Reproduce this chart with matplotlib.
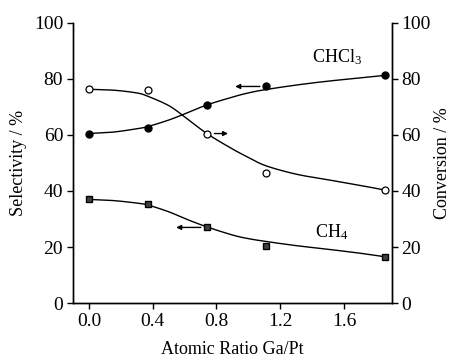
import matplotlib
matplotlib.use("Agg")
import matplotlib.pyplot as plt
import numpy as np

plt.rcParams['font.family'] = ['Liberation Serif', 'DejaVu Serif']
plt.rcParams['mathtext.default'] = 'regular'

# measured points
ratio = [0.0, 0.37, 0.74, 1.11, 1.86]
sel_chcl3 = [60.5, 62.5, 70.7, 77.3, 81.5]
sel_ch4 = [37.0, 35.5, 27.0, 20.5, 16.5]
conversion = [76.5, 76.0, 60.5, 46.5, 40.5]

# fitted curves
fit_x = [0.0, 0.15, 0.3, 0.37, 0.5, 0.6, 0.74, 0.9, 1.0, 1.11, 1.3, 1.5, 1.7, 1.86]
fit_chcl3 = [60.5, 61.0, 62.2, 63.0, 65.3, 67.5, 70.7, 73.5, 75.0, 76.2, 77.8, 79.2, 80.3, 81.3]
fit_ch4 = [37.0, 36.6, 35.7, 35.0, 32.6, 30.2, 27.2, 24.3, 23.0, 22.0, 20.5, 19.2, 17.8, 16.5]
fit_conv = [76.3, 76.0, 75.0, 73.8, 70.5, 66.5, 60.5, 55.0, 52.0, 49.0, 46.0, 44.0, 42.0, 40.3]


def smooth(x, y, n=12):
    # catmull-rom through the read points, only to draw a smooth line
    x = np.asarray(x, float)
    y = np.asarray(y, float)
    px = np.concatenate([[2 * x[0] - x[1]], x, [2 * x[-1] - x[-2]]])
    py = np.concatenate([[2 * y[0] - y[1]], y, [2 * y[-1] - y[-2]]])
    t = np.linspace(0, 1, n, endpoint=False)
    ox, oy = [], []
    for i in range(1, len(px) - 2):
        for p, o in ((px, ox), (py, oy)):
            p0, p1, p2, p3 = p[i - 1], p[i], p[i + 1], p[i + 2]
            o.extend(0.5 * (2 * p1 + (p2 - p0) * t
                            + (2 * p0 - 5 * p1 + 4 * p2 - p3) * t ** 2
                            + (3 * p1 - p0 - 3 * p2 + p3) * t ** 3))
    ox.append(x[-1])
    oy.append(y[-1])
    return ox, oy


fig = plt.figure(figsize=(4.53, 3.57), dpi=100)
ax = fig.add_axes([0.161, 0.151, 0.704, 0.785])
ax2 = ax.twinx()

ax.plot(*smooth(fit_x, fit_chcl3), color='black', lw=1.0)
ax.plot(*smooth(fit_x, fit_ch4), color='black', lw=1.0)
ax2.plot(*smooth(fit_x, fit_conv), color='black', lw=1.0)

ax.plot(ratio, sel_chcl3, 'o', ms=5, mfc='black', mec='black')
ax.plot(ratio, sel_ch4, 's', ms=4, mfc='#404040', mec='black', mew=1.0)
ax2.plot(ratio, conversion, 'o', ms=5, mfc='white', mec='black', mew=0.9)

# arrows showing which axis each curve belongs to
arr = dict(arrowstyle='-|>', color='black', lw=1.0, mutation_scale=7)
ax.annotate('', xy=(0.9, 77.3), xytext=(1.09, 77.3), arrowprops=arr)
ax.annotate('', xy=(0.53, 27.0), xytext=(0.72, 27.0), arrowprops=arr)
ax2.annotate('', xy=(0.89, 60.5), xytext=(0.77, 60.5), arrowprops=arr)

ax.text(1.4, 86.0, 'CHCl$_3$', fontsize=13)
ax.text(1.42, 23.5, 'CH$_4$', fontsize=13)

ax.set_xlim(-0.1, 1.9)
ax.set_ylim(0, 100)
ax2.set_ylim(0, 100)
ax.set_xticks([0.0, 0.4, 0.8, 1.2, 1.6])
ax.set_xticklabels(['0.0', '0.4', '0.8', '1.2', '1.6'])
ax.set_yticks(range(0, 101, 20))
ax2.set_yticks(range(0, 101, 20))

for a in (ax, ax2):
    a.spines['top'].set_visible(False)
    a.tick_params(direction='out', length=4, width=1, labelsize=14, pad=3)
    for s in a.spines.values():
        s.set_linewidth(1.0)

ax.set_xlabel('Atomic Ratio Ga/Pt', fontsize=13, labelpad=8)
ax.set_ylabel('Selectivity / %', fontsize=13, labelpad=5)
ax2.set_ylabel('Conversion / %', fontsize=13, labelpad=2)

fig.savefig('out.png', dpi=100)
